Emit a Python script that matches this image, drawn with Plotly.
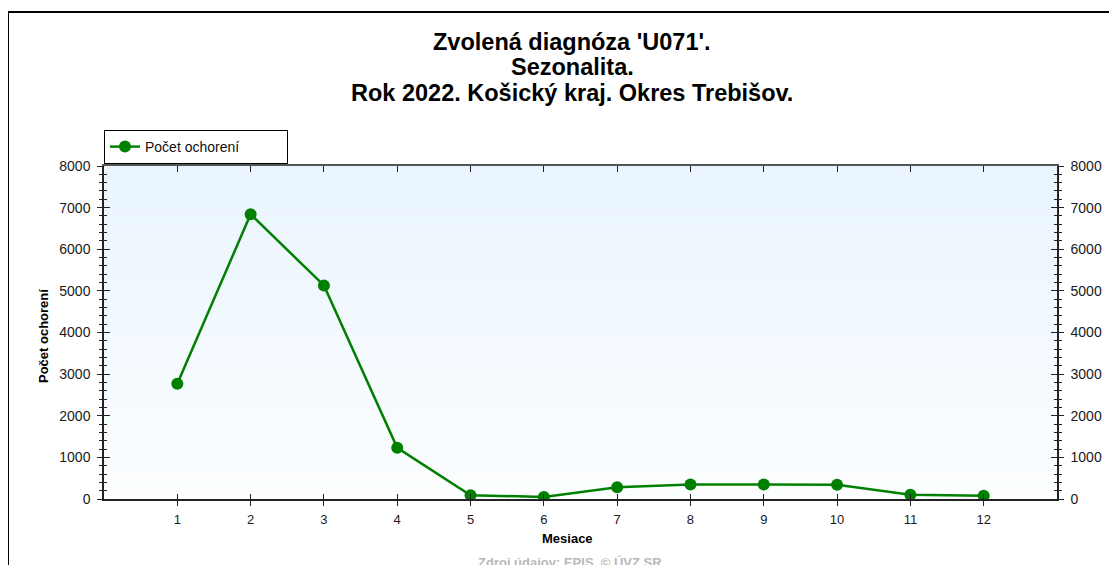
import plotly.graph_objects as go

months = [1, 2, 3, 4, 5, 6, 7, 8, 9, 10, 11, 12]
cases = [2770, 6840, 5130, 1230, 90, 50, 280, 350, 350, 340, 100, 80]
series_name = "Počet ochorení"
title_lines = ["Zvolená diagnóza 'U071'.", "Sezonalita.", "Rok 2022. Košický kraj. Okres Trebišov."]
x_title = "Mesiace"
y_title = "Počet ochorení"
source_text = "Zdroj údajov: EPIS, © ÚVZ SR"
y_ticks = [0, 1000, 2000, 3000, 4000, 5000, 6000, 7000, 8000]

OFF = 8  # page body margin
W, H = 1117 - OFF, 565 - OFF
L, R, T, B = 104 - OFF, 60, 166 - OFF, 66
FONT = "Liberation Sans, Arial, sans-serif"
GREEN = "#008000"
AX = "#222222"


def px_x(px):  # window pixel -> paper x
    return (px - OFF - L) / (W - L - R)


def px_y(py):  # window pixel -> paper y
    return (H - B - (py - OFF)) / (H - T - B)


fig = go.Figure()
fig.add_trace(go.Scatter(
    x=months, y=cases, name=series_name, mode="lines+markers",
    line=dict(color=GREEN, width=2.5),
    marker=dict(color=GREEN, size=12),
))
# helper traces (draw nothing) so that the overlay axes used for crossing ticks are rendered
fig.add_trace(go.Scatter(x=months, y=cases, xaxis="x2", yaxis="y3", mode="none",
                         showlegend=False, hoverinfo="skip"))
fig.add_trace(go.Scatter(x=months, y=cases, xaxis="x3", yaxis="y4", mode="none",
                         showlegend=False, hoverinfo="skip"))
fig.add_trace(go.Scatter(x=months, y=cases, xaxis="x", yaxis="y2", mode="none",
                         showlegend=False, hoverinfo="skip"))

# gradient background bands
nb = 60
for i in range(nb):
    f = i / (nb - 1)
    r = round(233 + (252 - 233) * f)
    g = round(244 + (254 - 244) * f)
    b = round(254 + (255 - 254) * f)
    fig.add_shape(type="rect", xref="x domain", yref="y domain",
                  x0=0, x1=1, y0=1 - (i + 1) / nb, y1=1 - i / nb,
                  fillcolor=f"rgb({r},{g},{b})", line_width=0, layer="below")

# outer frame (top and left)
fig.add_shape(type="line", xref="paper", yref="paper", x0=px_x(8), x1=px_x(1130),
              y0=px_y(12), y1=px_y(12), line=dict(color="black", width=2))
fig.add_shape(type="line", xref="paper", yref="paper", x0=px_x(8), x1=px_x(8),
              y0=px_y(12), y1=px_y(580), line=dict(color="black", width=2))

ytick_font = dict(family=FONT, size=14, color="#1a1a1a")
xtick_font = dict(family=FONT, size=13, color="#1a1a1a")
minor_out = dict(dtick=200, ticks="outside", ticklen=3, tickcolor=AX, tickwidth=1)
minor_in = dict(dtick=200, ticks="inside", ticklen=3, tickcolor=AX, tickwidth=1)

fig.update_layout(
    width=W, height=H,
    margin=dict(l=L, r=R, t=T, b=B, autoexpand=False),
    paper_bgcolor="white", plot_bgcolor="white",
    showlegend=True,
    legend=dict(x=0, y=px_y(130), xanchor="left", yanchor="top",
                orientation="h", entrywidth=137, entrywidthmode="pixels",
                bgcolor="white", bordercolor="black", borderwidth=1,
                font=dict(family=FONT, size=14, color="#111"),
                tracegroupgap=0),
    xaxis=dict(range=[0, 13], tickvals=months, ticks="outside", ticklen=5,
               tickcolor=AX, showline=True, linecolor=AX, linewidth=1.5,
               showgrid=False, zeroline=False, tickfont=xtick_font,
               ticklabelstandoff=3, fixedrange=True),
    xaxis2=dict(range=[0, 13], tickvals=months, overlaying="x", side="bottom",
                anchor="y", ticks="inside", ticklen=5, tickcolor=AX,
                showticklabels=False, showgrid=False, zeroline=False, showline=False),
    xaxis3=dict(range=[0, 13], tickvals=months, overlaying="x", side="top",
                anchor="y", ticks="inside", ticklen=6, tickcolor=AX,
                showticklabels=False, showgrid=False, zeroline=False,
                showline=True, linecolor="#555", linewidth=1.5),
    yaxis=dict(range=[0, 8000], tickvals=y_ticks, ticks="outside", ticklen=5,
               tickcolor=AX, showline=True, linecolor=AX, linewidth=1.5,
               showgrid=False, zeroline=False, tickfont=ytick_font,
               ticklabelstandoff=4, minor=minor_out, fixedrange=True),
    yaxis3=dict(range=[0, 8000], tickvals=y_ticks, overlaying="y", side="left",
                anchor="x", ticks="inside", ticklen=6, tickcolor=AX,
                showticklabels=False, showgrid=False, zeroline=False,
                showline=False, minor=minor_in),
    yaxis2=dict(range=[0, 8000], tickvals=y_ticks, overlaying="y", side="right",
                anchor="x", ticks="outside", ticklen=5, tickcolor=AX,
                showline=True, linecolor=AX, linewidth=1.5, showgrid=False,
                zeroline=False, tickfont=ytick_font, ticklabelstandoff=4,
                minor=minor_out),
    yaxis4=dict(range=[0, 8000], tickvals=y_ticks, overlaying="y", side="right",
                anchor="x", ticks="inside", ticklen=6, tickcolor=AX,
                showticklabels=False, showgrid=False, zeroline=False,
                showline=False, minor=minor_in),
)

# title lines
for txt, py in zip(title_lines, [42, 67, 93]):
    fig.add_annotation(text=f"<b>{txt}</b>", xref="paper", yref="paper",
                       x=px_x(572), y=px_y(py), xanchor="center", yanchor="middle",
                       showarrow=False, font=dict(family=FONT, size=23.5, color="black"))

fig.add_annotation(text=f"<b>{x_title}</b>", xref="paper", yref="paper",
                   x=px_x(567), y=px_y(538), xanchor="center", yanchor="middle",
                   showarrow=False, font=dict(family=FONT, size=13, color="black"))
fig.add_annotation(text=f"<b>{y_title}</b>", xref="paper", yref="paper",
                   x=px_x(43), y=px_y(336), xanchor="center", yanchor="middle",
                   textangle=-90, showarrow=False,
                   font=dict(family=FONT, size=13, color="black"))
fig.add_annotation(text=f"<b>{source_text}</b>", xref="paper", yref="paper",
                   x=px_x(570), y=px_y(553), xanchor="center", yanchor="top",
                   showarrow=False, font=dict(family=FONT, size=13, color="#b8b8b8"))

fig.write_html("out.html")
